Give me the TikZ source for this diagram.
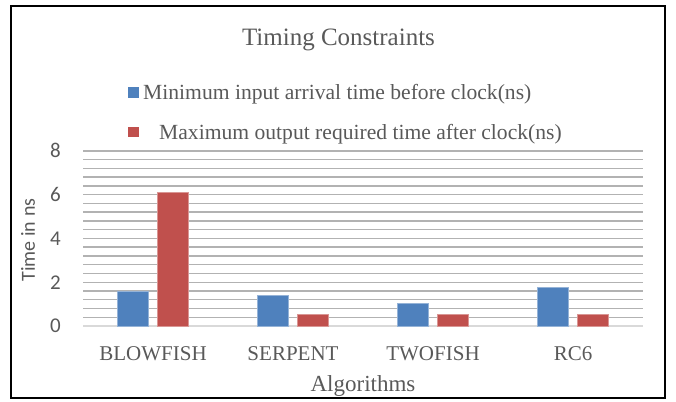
\documentclass[tikz,border=0pt]{standalone}
\usepackage{fontspec}
\setmainfont{Liberation Serif}
\newfontfamily\calfont{Carlito}
\usetikzlibrary{positioning}
\definecolor{barBlue}{HTML}{4F81BD}
\definecolor{barRed}{HTML}{C0504D}
\definecolor{gridGray}{HTML}{B2B2B2}
\definecolor{axisGray}{HTML}{D9D9D9}
\definecolor{inkGray}{HTML}{595959}
\newcommand{\fsz}[1]{\fontsize{#1}{#1}\selectfont}

\begin{document}
\begin{tikzpicture}[x=1pt, y=-1pt,
  lbl/.style={text=inkGray, inner sep=0pt},
  grid/.style={draw=gridGray, line width=1.4pt},
  minbar/.style={fill=barBlue, draw=barBlue!60!white, line width=0.6pt},
  maxbar/.style={fill=barRed, draw=barRed!60!white, line width=0.6pt},
]
\useasboundingbox (0,0) rectangle (676,401);

% ===== Frame ================================================================
\draw[line width=1.6pt] (11,6) rectangle (665,398);

% ===== Title and legend =====================================================
\node[lbl, font=\fsz{25}, anchor=base] (title) at (338.5,46) {Timing Constraints};
\fill[barBlue] (128,87) rectangle (139,98);
\node[lbl, font=\fsz{21.6}, anchor=base west] (legmin) at (143,99.3)
  {Minimum input arrival time before clock(ns)};
\fill[barRed] (128,127) rectangle (139,137);
\node[lbl, font=\fsz{21.6}, anchor=base west] (legmax) at (159,139.3)
  {Maximum output required time after clock(ns)};

% ===== Grid and axis ========================================================
\foreach \k in {1,...,20}
  \draw[grid] (83,{326-8.76*\k}) -- (643,{326-8.76*\k});
\draw[axisGray, line width=1.4pt] (83,326) -- (643,326);
\foreach \v in {0,2,4,6,8}
  \node[lbl, font=\calfont\fsz{21}, anchor=east] (tick\v) at (61,{326-21.9*\v}) {\v};
\node[lbl, font=\calfont\fsz{20}, rotate=90] (ylab) at (28,240) {Time in ns};

% ===== Bars =================================================================
\foreach \i/\mn/\mx/\alg in {0/1.58/6.12/BLOWFISH, 1/1.42/0.55/SERPENT,
                            2/1.04/0.55/TWOFISH, 3/1.78/0.55/RC6} {
  \draw[minbar] ({117.7+140*\i},326) rectangle ({148.5+140*\i},{326-21.9*\mn});
  \draw[maxbar] ({157.3+140*\i},326) rectangle ({188.3+140*\i},{326-21.9*\mx});
  \node[lbl, font=\fsz{21}, anchor=base] (cat\i) at ({153+140*\i},360.4) {\alg};
}
\node[lbl, font=\fsz{23}, anchor=base] (xlab) at (363,391) {Algorithms};

\end{tikzpicture}
\end{document}
